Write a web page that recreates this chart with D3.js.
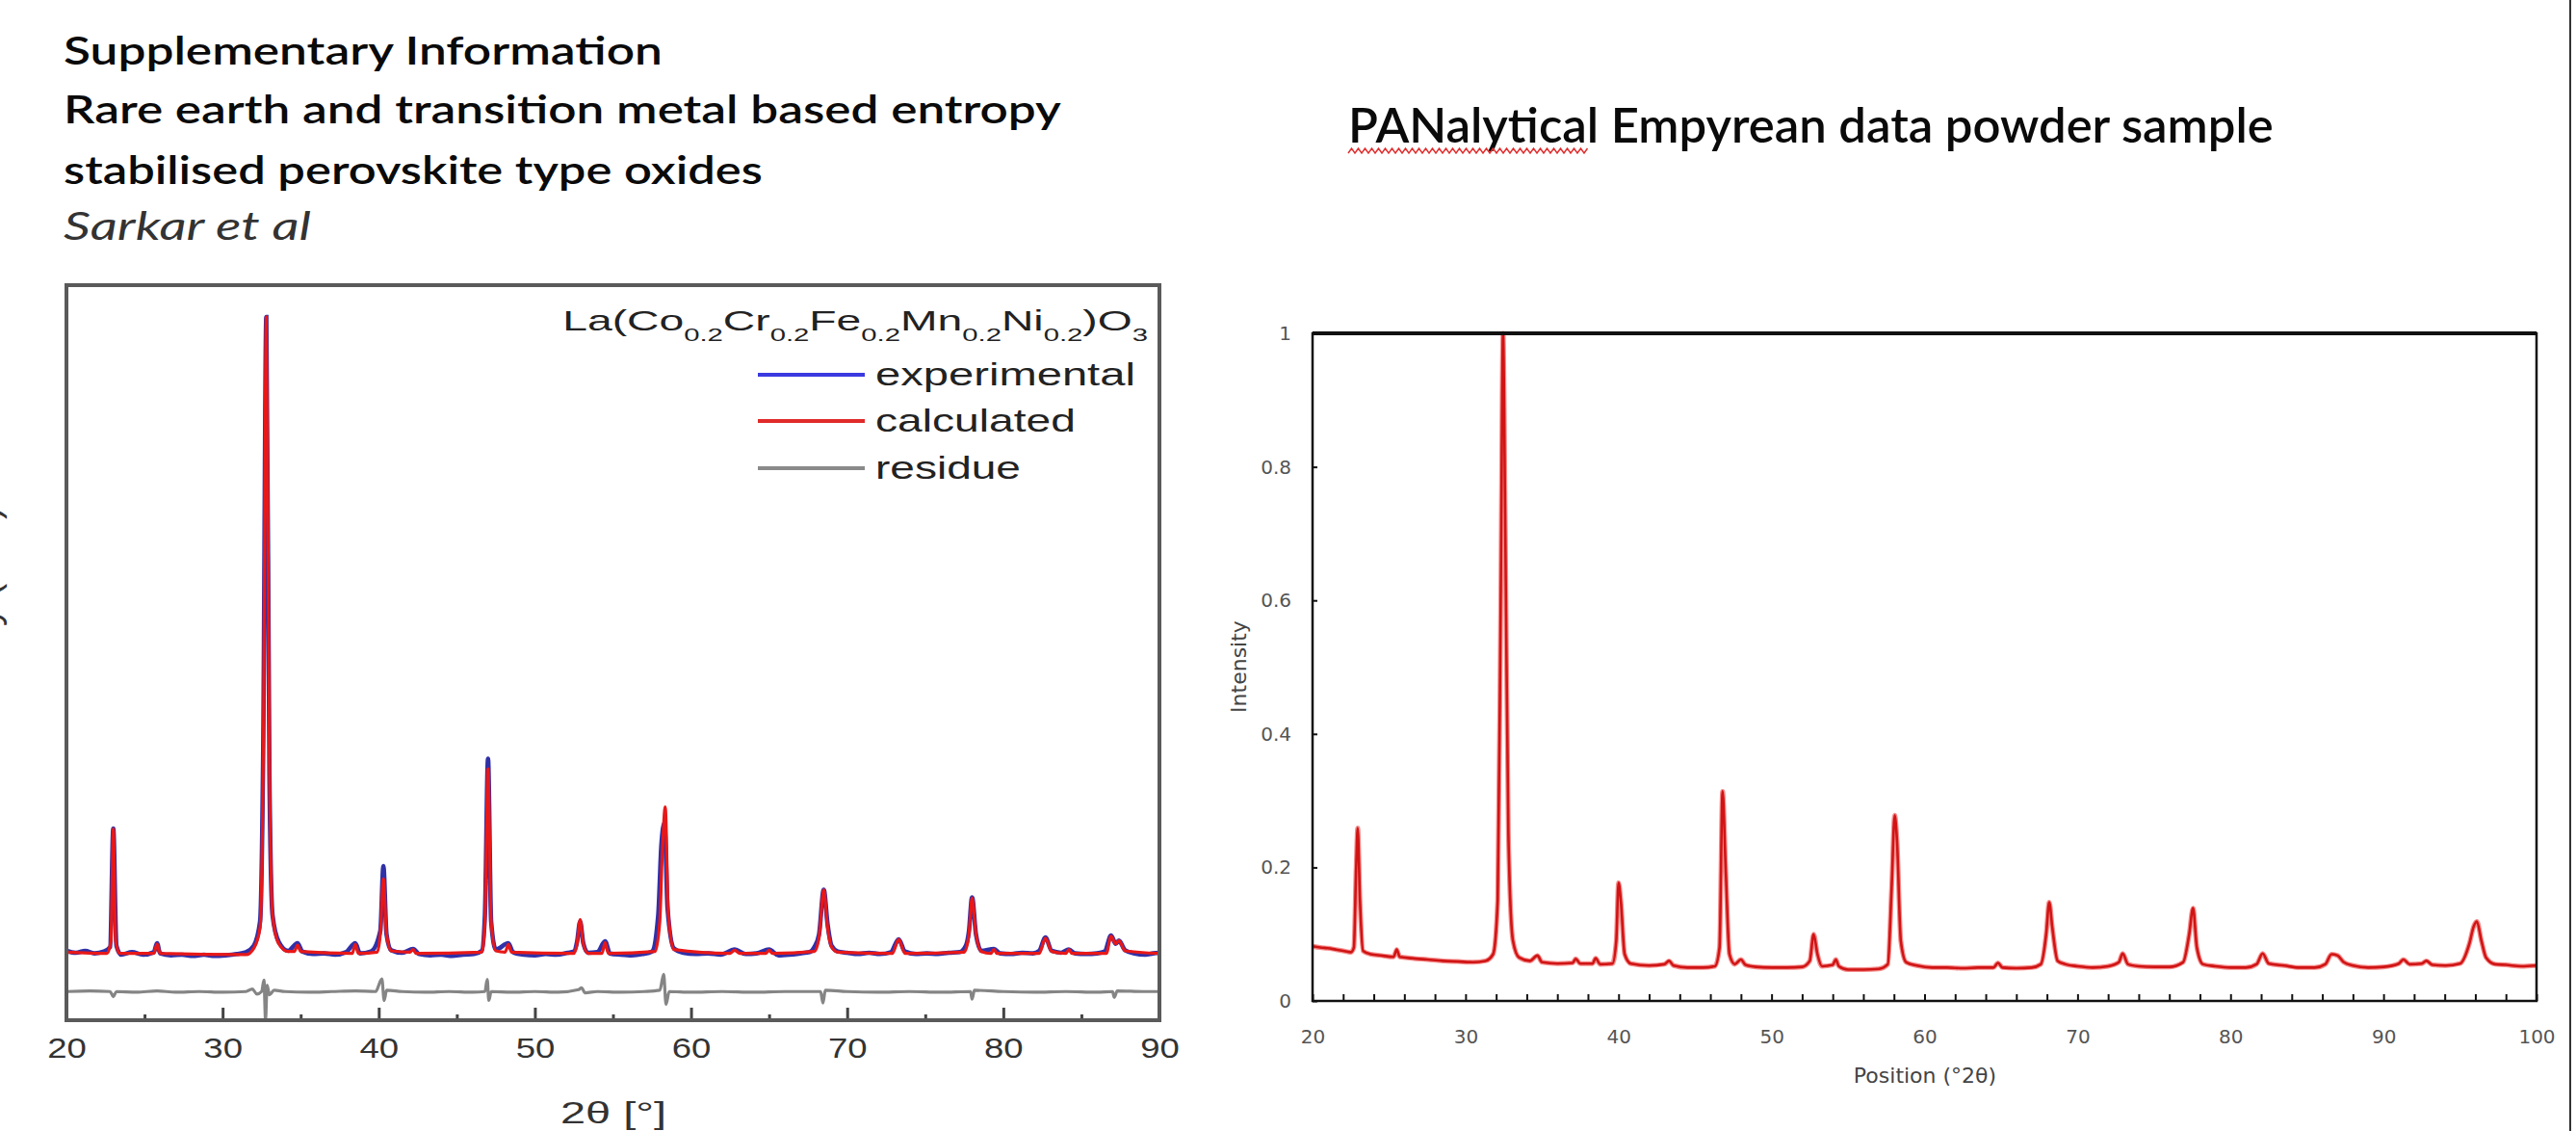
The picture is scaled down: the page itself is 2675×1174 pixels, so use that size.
<!DOCTYPE html>
<html>
<head>
<meta charset="utf-8">
<script src="https://cdn.jsdelivr.net/npm/d3@7/dist/d3.min.js"></script>
<style>
  body { margin: 0; background: #fff; }
  svg { display: block; }
</style>
</head>
<body>
<svg width="2675" height="1174"></svg>
<script>
// ---- left panel: Sarkar et al refinement, [2theta, intensity] (baseline = 0, main peak = 1)
var leftXTicks = [20, 30, 40, 50, 60, 70, 80, 90];
var leftXMinor = [25, 35, 45, 55, 65, 75, 85];

var leftExp = [
  [20, 0.004], [20.6, 0.001], [21.2, 0.004], [21.8, 0.0], [22.4, 0.003], [22.8, 0.01], [23.0, 0.196], [23.2, 0.012],
  [23.5, -0.002], [24.2, 0.002], [24.9, -0.002], [25.6, 0.002], [25.8, 0.016], [26.0, 0.0], [26.7, -0.003],
  [27.4, -0.002], [28.1, -0.004], [28.8, -0.002], [29.5, -0.004], [30.2, -0.003], [30.9, -0.001], [31.5, 0.002],
  [32.0, 0.012], [32.4, 0.05], [32.6, 0.32], [32.8, 1.0], [33.0, 0.28], [33.2, 0.06], [33.6, 0.018], [34.2, 0.004],
  [34.8, 0.016], [35.1, 0.003], [35.8, -0.001], [36.5, 0.0], [37.2, -0.002], [37.9, 0.002], [38.5, 0.016], [38.8, 0.0],
  [39.5, 0.003], [40.1, 0.035], [40.3, 0.137], [40.5, 0.03], [40.8, 0.005], [41.5, 0.001], [42.2, 0.007], [42.6, -0.001],
  [43.3, -0.003], [44.0, -0.002], [44.7, -0.004], [45.4, -0.002], [46.1, -0.001], [46.6, 0.004], [46.8, 0.06],
  [47.0, 0.306], [47.2, 0.05], [47.5, 0.006], [48.3, 0.016], [48.6, 0.002], [49.3, -0.002], [50.0, -0.003],
  [50.7, -0.001], [51.4, -0.002], [52.1, 0.001], [52.5, 0.003], [52.7, 0.018], [52.9, 0.05], [53.1, 0.016],
  [53.4, 0.001], [54.0, 0.002], [54.5, 0.019], [54.8, 0.0], [55.5, -0.002], [56.2, -0.003], [56.9, -0.001],
  [57.5, 0.003], [57.9, 0.06], [58.1, 0.17], [58.3, 0.205], [58.5, 0.07], [58.9, 0.008], [59.5, 0.001],
  [60.3, -0.001], [61.1, 0.0], [61.9, -0.002], [62.8, 0.006], [63.5, -0.001], [64.2, 0.0], [65.0, 0.006],
  [65.6, -0.003], [66.3, -0.002], [67.0, 0.0], [67.6, 0.002], [67.9, 0.01], [68.2, 0.03], [68.5, 0.1], [68.75, 0.045],
  [69.0, 0.012], [69.4, 0.003], [70.0, 0.001], [70.7, -0.001], [71.4, 0.001], [72.1, -0.001], [72.8, 0.002],
  [73.3, 0.022], [73.7, 0.003], [74.4, -0.001], [75.1, 0.0], [75.8, -0.001], [76.5, 0.001], [77.2, 0.002],
  [77.6, 0.012], [77.8, 0.035], [78.0, 0.088], [78.25, 0.03], [78.6, 0.004], [79.4, 0.007], [79.8, 0.0],
  [80.5, -0.001], [81.2, 0.001], [81.9, 0.0], [82.3, 0.004], [82.7, 0.025], [83.1, 0.004], [83.7, 0.001],
  [84.2, 0.006], [84.6, 0.0], [85.3, -0.001], [86.0, 0.0], [86.5, 0.003], [86.9, 0.028], [87.2, 0.015],
  [87.4, 0.02], [87.8, 0.005], [88.4, 0.0], [89.1, -0.002], [89.6, 0.0], [90, 0.001]
];

var leftCalc = [
  [20, 0.002], [22.6, 0.0], [22.85, 0.02], [23.0, 0.196], [23.15, 0.02], [23.4, 0.0], [25.6, 0.0], [25.8, 0.015],
  [26.0, 0.0], [31.5, -0.002], [32.0, 0.008], [32.4, 0.04], [32.6, 0.3], [32.8, 1.0], [33.0, 0.3], [33.2, 0.06],
  [33.6, 0.015], [34.2, 0.003], [34.6, 0.003], [34.8, 0.013], [35.0, 0.003], [38.3, 0.0], [38.5, 0.014], [38.7, 0.0],
  [39.9, 0.002], [40.1, 0.03], [40.3, 0.117], [40.5, 0.03], [40.8, 0.004], [42.0, 0.002], [42.2, 0.006], [42.4, 0.0],
  [46.6, 0.002], [46.8, 0.05], [47.0, 0.29], [47.2, 0.05], [47.5, 0.004], [48.1, 0.002], [48.3, 0.014], [48.5, 0.002],
  [52.5, 0.0], [52.7, 0.015], [52.9, 0.053], [53.1, 0.015], [53.4, 0.0], [54.3, 0.0], [54.5, 0.017], [54.7, 0.0],
  [57.7, 0.003], [58.0, 0.05], [58.15, 0.15], [58.35, 0.23], [58.55, 0.06], [58.9, 0.006], [62.5, 0.0], [62.8, 0.005],
  [63.1, 0.0], [64.8, 0.0], [65.0, 0.005], [65.2, 0.0], [67.9, 0.003], [68.2, 0.025], [68.5, 0.1], [68.75, 0.04],
  [69.0, 0.01], [69.4, 0.002], [72.9, 0.0], [73.3, 0.022], [73.7, 0.0], [77.5, 0.002], [77.8, 0.03], [78.0, 0.087],
  [78.25, 0.03], [78.6, 0.003], [79.2, 0.0], [79.4, 0.006], [79.6, 0.0], [82.3, 0.0], [82.7, 0.024], [83.1, 0.003],
  [84.0, 0.0], [84.2, 0.006], [84.4, 0.0], [86.6, 0.0], [86.9, 0.027], [87.2, 0.015], [87.4, 0.02], [87.8, 0.004],
  [90, 0.0]
];

var leftRes = [
  [20, -0.06], [21.5, -0.059], [22.8, -0.06], [23.0, -0.068], [23.2, -0.06], [24.5, -0.061], [25.8, -0.059],
  [27, -0.061], [28.5, -0.06], [30, -0.061], [31.5, -0.06], [31.9, -0.056], [32.2, -0.064], [32.5, -0.06],
  [32.65, -0.042], [32.75, -0.105], [32.85, -0.05], [33.0, -0.065], [33.3, -0.058], [34, -0.06], [35.5, -0.061],
  [37, -0.06], [38.5, -0.059], [39.8, -0.06], [40.2, -0.04], [40.35, -0.074], [40.5, -0.058], [41.5, -0.06],
  [43, -0.061], [44.5, -0.06], [46, -0.061], [46.8, -0.06], [46.95, -0.041], [47.05, -0.074], [47.2, -0.06],
  [48.5, -0.061], [50, -0.06], [51.5, -0.061], [52.8, -0.057], [53.0, -0.054], [53.2, -0.062], [54, -0.06],
  [55.5, -0.061], [57, -0.06], [58.0, -0.058], [58.25, -0.033], [58.4, -0.08], [58.6, -0.06], [60, -0.061],
  [62, -0.06], [64, -0.061], [66, -0.06], [68.3, -0.06], [68.45, -0.078], [68.6, -0.058], [70, -0.06],
  [72, -0.061], [74, -0.06], [76, -0.061], [77.9, -0.06], [78.0, -0.072], [78.15, -0.058], [80, -0.06],
  [82, -0.061], [84, -0.06], [86, -0.061], [87.0, -0.06], [87.1, -0.069], [87.3, -0.059], [89, -0.06], [90, -0.06]
];

// ---- right panel: PANalytical Empyrean powder pattern, [position 2theta, normalised intensity]
var rightXTicks = [20, 30, 40, 50, 60, 70, 80, 90, 100];
var rightYTicks = [0, 0.2, 0.4, 0.6, 0.8, 1];
var rightYLabels = ["0", "0.2", "0.4", "0.6", "0.8", "1"];

var rightData = [
  [20, 0.082], [20.5, 0.08], [21, 0.079], [21.5, 0.077], [22, 0.075], [22.5, 0.073], [22.7, 0.08], [22.85, 0.2],
  [22.95, 0.259], [23.1, 0.15], [23.3, 0.075], [23.8, 0.07], [24.5, 0.068], [25.3, 0.066], [25.5, 0.077],
  [25.7, 0.066], [26.5, 0.064], [27.5, 0.062], [28.5, 0.06], [29.5, 0.059], [30.5, 0.058], [31.3, 0.06], [31.8, 0.07],
  [32.1, 0.15], [32.3, 0.6], [32.45, 1.0], [32.6, 0.7], [32.8, 0.25], [33.1, 0.09], [33.5, 0.065], [34.2, 0.06],
  [34.7, 0.068], [35.0, 0.058], [36, 0.056], [37.0, 0.057], [37.2, 0.063], [37.5, 0.056], [38.3, 0.056],
  [38.5, 0.064], [38.8, 0.055], [39.6, 0.056], [39.85, 0.09], [40.0, 0.177], [40.15, 0.15], [40.4, 0.07],
  [40.8, 0.056], [42, 0.053], [43, 0.055], [43.3, 0.06], [43.6, 0.053], [44.5, 0.05], [45.5, 0.05], [46.3, 0.052],
  [46.6, 0.08], [46.8, 0.314], [47.0, 0.2], [47.25, 0.07], [47.6, 0.055], [48.0, 0.062], [48.3, 0.054], [49, 0.051],
  [50, 0.05], [51, 0.05], [52, 0.051], [52.5, 0.06], [52.75, 0.1], [53.0, 0.07], [53.3, 0.052], [54.0, 0.054],
  [54.2, 0.062], [54.4, 0.052], [55, 0.047], [56, 0.047], [57, 0.048], [57.6, 0.055], [57.85, 0.17], [58.05, 0.278],
  [58.2, 0.24], [58.45, 0.09], [58.8, 0.058], [59.5, 0.053], [60.5, 0.05], [61.5, 0.05], [62.5, 0.049], [63.5, 0.05],
  [64.5, 0.05], [64.8, 0.057], [65.1, 0.05], [66, 0.049], [67, 0.05], [67.6, 0.055], [67.95, 0.1], [68.15, 0.148],
  [68.35, 0.11], [68.7, 0.06], [69.2, 0.055], [70, 0.052], [71, 0.05], [72, 0.052], [72.7, 0.058], [72.95, 0.071],
  [73.3, 0.055], [74, 0.052], [75, 0.051], [76, 0.051], [76.9, 0.058], [77.3, 0.1], [77.55, 0.139], [77.8, 0.08],
  [78.2, 0.055], [79, 0.052], [80, 0.05], [81, 0.05], [81.7, 0.055], [82.1, 0.071], [82.5, 0.056], [83.5, 0.053],
  [84.5, 0.05], [85.5, 0.05], [86.2, 0.055], [86.6, 0.07], [87.0, 0.068], [87.4, 0.058], [88, 0.053], [89, 0.05],
  [90, 0.051], [91, 0.056], [91.3, 0.062], [91.7, 0.055], [92.5, 0.056], [92.8, 0.06], [93.2, 0.054], [94, 0.053],
  [95, 0.056], [95.6, 0.085], [95.9, 0.112], [96.1, 0.119], [96.4, 0.09], [96.7, 0.065], [97.3, 0.055], [98, 0.054],
  [99, 0.052], [100, 0.053]
];

var svg = d3.select("svg");

// squeeze/stretch a text so that it spans w pixels (the slide screenshot is not 1:1)
function fitWidth(sel, w) {
    var bw = sel.node().getBBox().width;
    var x = +sel.attr("x") || 0, y = +sel.attr("y") || 0;
    sel.attr("x", 0).attr("y", 0)
        .attr("transform", "translate(" + x + "," + y + ") scale(" + (w / bw) + ",1)");
}

// ---------------- slide texts
var titleFont = "Lato, 'Open Sans', sans-serif";
[
    ["Supplementary Information", 67, 622],
    ["Rare earth and transition metal based entropy", 128, 1036],
    ["stabilised perovskite type oxides", 191, 726]
].forEach(function (t) {
    fitWidth(svg.append("text").attr("x", 66).attr("y", t[1])
        .style("font-family", titleFont).style("font-size", "40px").style("font-weight", 600)
        .attr("fill", "#0a0a0a").text(t[0]), t[2]);
});
fitWidth(svg.append("text").attr("x", 66).attr("y", 249)
    .style("font-family", titleFont).style("font-size", "40px").style("font-style", "italic")
    .attr("fill", "#333").text("Sarkar et al"), 257);

fitWidth(svg.append("text").attr("x", 1400).attr("y", 148)
    .style("font-family", titleFont).style("font-size", "50px").style("font-weight", 600)
    .attr("fill", "#0a0a0a").text("PANalytical Empyrean data powder sample"), 961);

// spell-check squiggle under "PANalytical"
var wave = [];
for (var wx = 1400; wx <= 1650; wx += 3.5) wave.push([wx, (Math.round((wx - 1400) / 3.5) % 2) ? 154 : 159]);
svg.append("path").attr("d", d3.line()(wave)).attr("fill", "none").attr("stroke", "#e03030").attr("stroke-width", 1.5);

// slide edge on the right
svg.append("line").attr("x1", 2669).attr("x2", 2669).attr("y1", 0).attr("y2", 1174)
    .attr("stroke", "#333").attr("stroke-width", 2);

// ---------------- left chart
var arial = "'Liberation Sans', Arial, sans-serif";
var xL = d3.scaleLinear().domain([20, 90]).range([69, 1204]);
var yL = d3.scaleLinear().domain([-0.105, 1.05]).range([1059, 296]);
var lineL = d3.line().x(function (d) { return xL(d[0]); }).y(function (d) { return yL(d[1]); })
    .curve(d3.curveMonotoneX);

svg.append("clipPath").attr("id", "clipL").append("rect")
    .attr("x", 69).attr("y", 296).attr("width", 1135).attr("height", 763);
var gL = svg.append("g").attr("clip-path", "url(#clipL)");

gL.append("path").datum(leftRes).attr("d", lineL)
    .attr("fill", "none").attr("stroke", "#858585").attr("stroke-width", 3.2);
gL.append("path").datum(leftExp).attr("d", lineL)
    .attr("fill", "none").attr("stroke", "#3030a8").attr("stroke-width", 4.6);
gL.append("path").datum(leftCalc).attr("d", lineL)
    .attr("fill", "none").attr("stroke", "#e81818").attr("stroke-width", 3.2);

var axL = svg.append("g").attr("transform", "translate(0,1059)")
    .call(d3.axisBottom(xL).tickValues(leftXTicks).tickSize(-13).tickPadding(18));
axL.select(".domain").remove();
axL.selectAll(".tick line").attr("stroke", "#444").attr("stroke-width", 3);
axL.selectAll(".tick text").style("font-family", arial).style("font-size", "29px")
    .attr("fill", "#333").attr("transform", "scale(1.26,1)");

var axLm = svg.append("g").attr("transform", "translate(0,1059)")
    .call(d3.axisBottom(xL).tickValues(leftXMinor).tickSize(-6).tickFormat(""));
axLm.select(".domain").remove();
axLm.selectAll(".tick line").attr("stroke", "#444").attr("stroke-width", 3);

svg.append("rect").attr("x", 69).attr("y", 296).attr("width", 1135).attr("height", 763)
    .attr("fill", "none").attr("stroke", "#5a5a5a").attr("stroke-width", 4);

fitWidth(svg.append("text").attr("x", 637).attr("y", 1166).attr("text-anchor", "middle")
    .style("font-family", arial).style("font-size", "31px").attr("fill", "#333")
    .text("2θ [°]"), 110);

// y label, almost entirely outside the slide crop
svg.append("text").attr("transform", "translate(-1,779) rotate(-90)")
    .style("font-family", arial).style("font-size", "40px").attr("fill", "#333")
    .text("Intensity (a.u.)");

// formula + legend
var formula = svg.append("text").attr("x", 1192).attr("y", 343).attr("text-anchor", "end")
    .style("font-family", arial).style("font-size", "30px").attr("fill", "#222");
var parts = [["La(Co", 0], ["0.2", 1], ["Cr", 0], ["0.2", 1], ["Fe", 0], ["0.2", 1], ["Mn", 0], ["0.2", 1],
    ["Ni", 0], ["0.2", 1], [")O", 0], ["3", 1]];
var low = 0;
parts.forEach(function (p) {
    var ts = formula.append("tspan").text(p[0]);
    if (p[1] && !low) ts.attr("dy", 11);
    if (!p[1] && low) ts.attr("dy", -11);
    if (p[1]) ts.style("font-size", "19px");
    low = p[1];
});
fitWidth(formula, 608);

var legendItems = [
    ["experimental", "#3a3ae0", 389, 270],
    ["calculated", "#e02a2a", 437, 208],
    ["residue", "#8a8a8a", 486, 151]
];
legendItems.forEach(function (d) {
    svg.append("line").attr("x1", 787).attr("x2", 898).attr("y1", d[2]).attr("y2", d[2])
        .attr("stroke", d[1]).attr("stroke-width", 4);
    fitWidth(svg.append("text").attr("x", 909).attr("y", d[2] + 11)
        .style("font-family", arial).style("font-size", "33px").attr("fill", "#222")
        .text(d[0]), d[3]);
});

// ---------------- right chart
var dejavu = "'DejaVu Sans', sans-serif";
var xR = d3.scaleLinear().domain([20, 100]).range([1363, 2634]);
var yR = d3.scaleLinear().domain([0, 1]).range([1039, 346]);
var lineR = d3.line().x(function (d) { return xR(d[0]); }).y(function (d) { return yR(d[1]); })
    .curve(d3.curveMonotoneX);

svg.append("path").datum(rightData).attr("d", lineR)
    .attr("fill", "none").attr("stroke", "#ee4040").attr("stroke-width", 5).attr("stroke-opacity", 0.6);
svg.append("path").datum(rightData).attr("d", lineR)
    .attr("fill", "none").attr("stroke", "#d01414").attr("stroke-width", 2.6);

var axR = svg.append("g").attr("transform", "translate(0,1039)")
    .call(d3.axisBottom(xR).tickValues(d3.range(20, 101, 2)).tickSize(-7).tickPadding(30)
        .tickFormat(function (d) { return rightXTicks.indexOf(d) >= 0 ? d : ""; }));
axR.select(".domain").remove();
axR.selectAll(".tick line").attr("stroke", "#111").attr("stroke-width", 2);
axR.selectAll(".tick text").style("font-family", dejavu).style("font-size", "20px").attr("fill", "#555");

var ayR = svg.append("g").attr("transform", "translate(1363,0)")
    .call(d3.axisLeft(yR).tickValues(rightYTicks).tickSize(-5).tickPadding(22)
        .tickFormat(function (d, i) { return rightYLabels[i]; }));
ayR.select(".domain").remove();
ayR.selectAll(".tick line").attr("stroke", "#111").attr("stroke-width", 2);
ayR.selectAll(".tick text").style("font-family", dejavu).style("font-size", "20px").attr("fill", "#555");

svg.append("rect").attr("x", 1363).attr("y", 346).attr("width", 1271).attr("height", 693)
    .attr("fill", "none").attr("stroke", "#111").attr("stroke-width", 2.5);
svg.append("line").attr("x1", 1363).attr("x2", 2634).attr("y1", 346).attr("y2", 346)
    .attr("stroke", "#111").attr("stroke-width", 4);

svg.append("text").attr("x", 1999).attr("y", 1124).attr("text-anchor", "middle")
    .style("font-family", dejavu).style("font-size", "22px").attr("fill", "#444")
    .text("Position (°2θ)");
svg.append("text").attr("transform", "translate(1294,692) rotate(-90)").attr("text-anchor", "middle")
    .style("font-family", dejavu).style("font-size", "22px").attr("fill", "#444")
    .text("Intensity");
</script>
</body>
</html>
